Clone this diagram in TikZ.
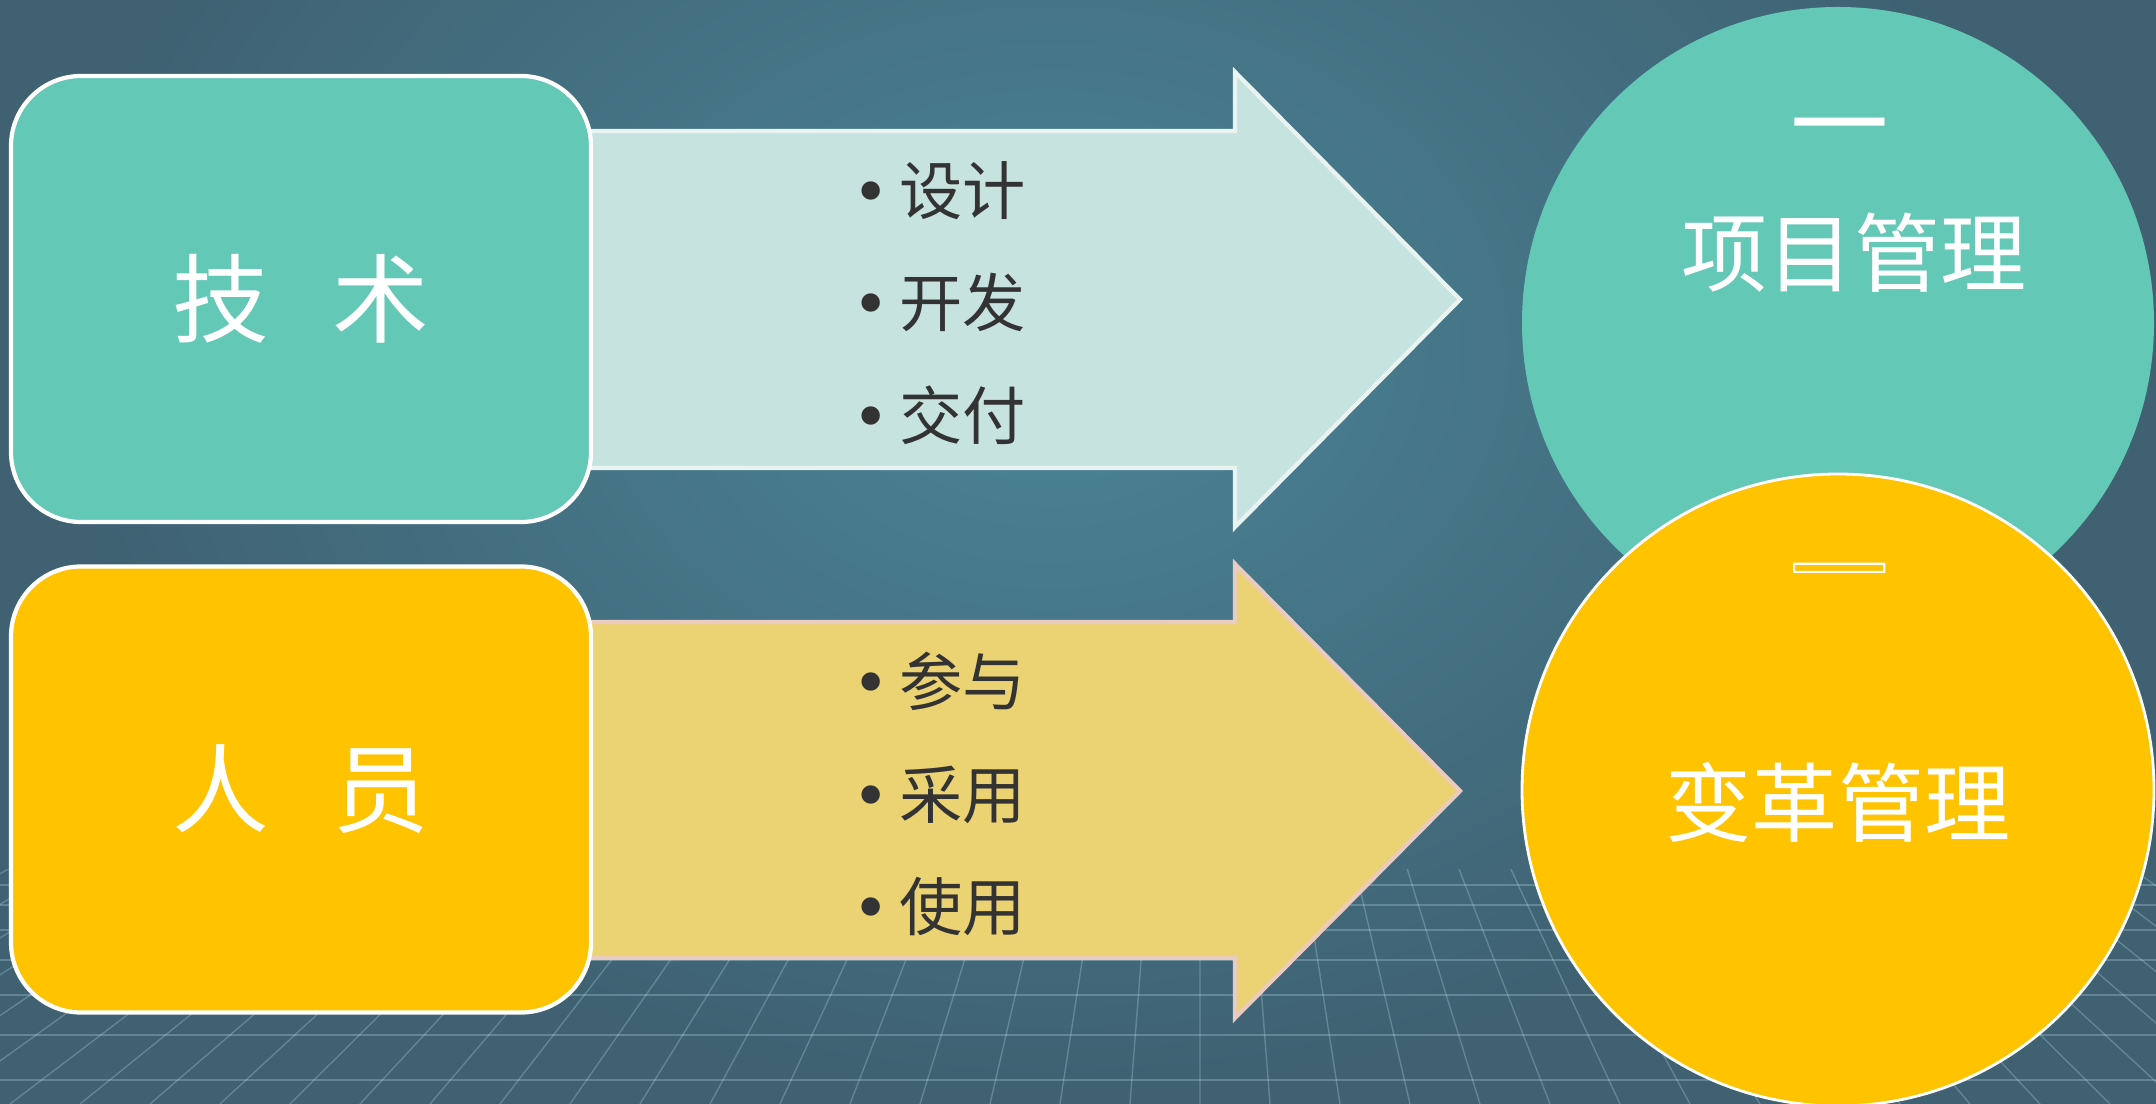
\documentclass[tikz,border=0pt]{standalone}
\usepackage{fontspec}
\setmainfont{Noto Sans CJK SC}
\newfontfamily\bulletfont{DejaVu Sans}
\usepackage{xcolor}
\usetikzlibrary{calc}

\definecolor{bgdark}{HTML}{3F6172}
\definecolor{bglight}{HTML}{4A8597}
\definecolor{techgreen}{HTML}{64C8B6}
\definecolor{peopleyellow}{HTML}{FFC300}
\definecolor{mintarrow}{HTML}{C7E3DF}
\definecolor{sandarrow}{HTML}{EBD374}
\definecolor{sandedge}{HTML}{EACBC0}
\definecolor{listgray}{HTML}{333333}

\newcommand{\bul}{{\bulletfont•}\hspace{0.15em}}

\begin{document}
\begin{tikzpicture}[y=-1cm,
    box/.style={rounded corners=0.7cm, draw=white, line width=1.2pt, minimum width=5.8cm, minimum height=4.46cm, text=white, font=\fontsize{27.5}{30}\selectfont},
    list/.style={anchor=west, align=left, inner sep=0pt, text=listgray, font=\fontsize{18}{32}\selectfont},
    title/.style={text=white, font=\fontsize{24.5}{30}\selectfont}]

    \useasboundingbox (0,0) rectangle (21.56,11.04);
    \clip (0,0) rectangle (21.56,11.04);

    % background
    \fill[bgdark] (0,0) rectangle (21.56,11.04);
    \shade[inner color=bglight, outer color=bgdark] (10.5,3.5) ellipse (10 and 7.5);
    \begin{scope}
      \clip (0,8.7) rectangle (21.56,11.04);
      \foreach \x in {-30,-29.3,...,50} \draw[white!80!cyan, opacity=0.25] (12,2) -- (\x,11.04);
      \foreach \y in {8.85,9.05,9.3,9.6,9.95,10.35,10.8} \draw[white!80!cyan, opacity=0.25] (0,\y) -- (21.56,\y);
    \end{scope}

    % arrows
    \draw[fill=mintarrow, draw=white!60!mintarrow, line width=1.2pt] (5.6,1.31) -- (12.35,1.31) -- (12.35,0.72) -- (14.6,2.995) -- (12.35,5.27) -- (12.35,4.68) -- (5.6,4.68) -- cycle;
    \draw[fill=sandarrow, draw=sandedge, line width=1.2pt] (5.6,6.22) -- (12.35,6.22) -- (12.35,5.64) -- (14.6,7.91) -- (12.35,10.18) -- (12.35,9.58) -- (5.6,9.58) -- cycle;

    % boxes
    \node[box, fill=techgreen] (tech) at (3.01,2.99) {技\hspace{0.65em}术};
    \node[box, fill=peopleyellow] (people) at (3.01,7.895) {人\hspace{0.65em}员};

    % lists
    \node[list] (techlist) at (8.52,3.03) {\bul 设计\\\bul 开发\\\bul 交付};
    \node[list] (peoplelist) at (8.52,7.94) {\bul 参与\\\bul 采用\\\bul 使用};

    % circles
    \node[circle, fill=techgreen, minimum size=6.32cm] (project) at (18.38,3.23) {};
    \node[circle, fill=peopleyellow, draw=white, line width=0.8pt, minimum size=6.32cm] (change) at (18.38,7.9) {};
    \node[title, font=\fontsize{28}{30}\selectfont] (projectno) at (18.4,1.39) {一};
    \node[title, font=\fontsize{28}{30}\selectfont] (changeno) at (18.39,5.85) {\special{pdf:literal direct 1 Tr 0.6 w}一\special{pdf:literal direct 0 Tr}};
    \node[title] (projecttitle) at (18.54,2.53) {项目管理};
    \node[title] (changetitle) at (18.38,8.02) {变革管理};
\end{tikzpicture}
\end{document}
